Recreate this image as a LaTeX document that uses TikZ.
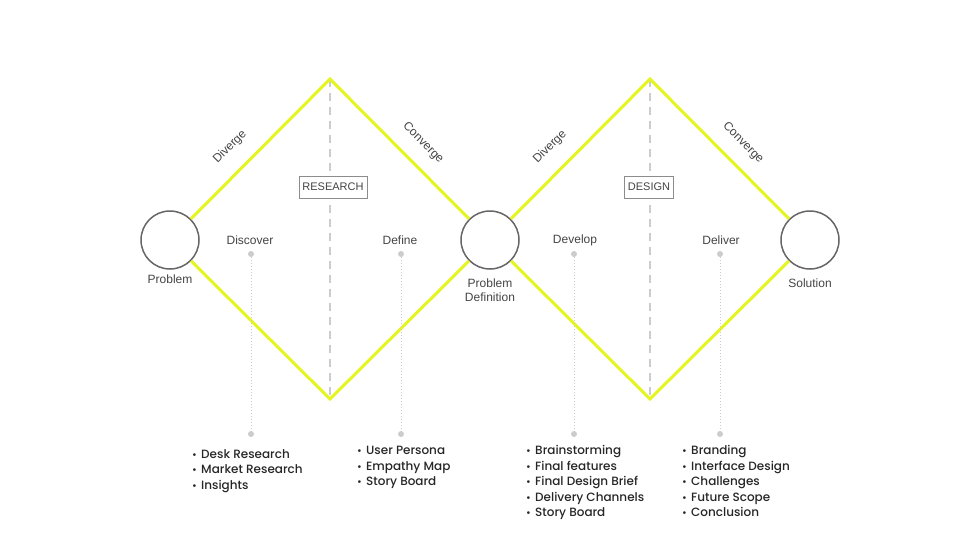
\documentclass[tikz,border=0pt]{standalone}
\usepackage{fontspec}
\setmainfont{Liberation Sans}
\newfontfamily\listfont{Poppins}[UprightFont=* Medium]
\usepackage{tikz}
\usetikzlibrary{positioning}
\usepackage{xcolor}
\definecolor{lime}{RGB}{228,245,33}
\definecolor{ringgray}{RGB}{102,102,102}
\definecolor{textgray}{RGB}{68,68,68}
\definecolor{dotgray}{RGB}{204,204,204}
\newcommand{\itm}{\makebox[9pt][l]{\scalebox{0.85}{•}}}

\tikzset{
  stage/.style={circle, draw=ringgray, line width=1.5pt, fill=white, minimum size=58pt, inner sep=0pt},
  diamondline/.style={draw=lime, line width=3pt, line join=miter},
  label/.style={text=textgray, font=\fontsize{12}{14}\selectfont, inner sep=0pt, align=center},
  phasebox/.style={draw=gray!90, text=textgray, font=\fontsize{11}{13}\selectfont, inner sep=3.5pt, minimum height=22pt},
  midline/.style={draw=dotgray, line width=1.5pt, dash pattern=on 8pt off 6pt},
  pin/.style={circle, fill=dotgray, minimum size=6pt, inner sep=0pt},
  pinline/.style={draw=dotgray, line width=1pt, dotted},
  itemlist/.style={anchor=north west, align=left, inner sep=0pt, text=black!85,
                   font={\listfont\fontsize{12}{15.5}\selectfont}}
}

\begin{document}
\begin{tikzpicture}[x=1pt,y=-1pt]
\useasboundingbox (0,0) rectangle (980,551);

% the three stages
\node[stage] (problem) at (170,240) {};
\node[stage] (definition) at (490,240) {};
\node[stage] (solution) at (810,240) {};
\node[label, below=5pt of problem] {Problem};
\node[label, below=9pt of definition] {Problem\\Definition};
\node[label, below=9pt of solution] {Solution};

% corners of the diamonds
\coordinate (top1) at (330,79);
\coordinate (bot1) at (330,399);
\coordinate (top2) at (650,79);
\coordinate (bot2) at (650,399);

% centre lines
\draw[midline] (top1)--(bot1);
\draw[midline] (top2)--(bot2);

% the double diamond
\draw[diamondline] (problem)--(top1)--(definition);
\draw[diamondline] (problem)--(bot1)--(definition);
\draw[diamondline] (definition)--(top2)--(solution);
\draw[diamondline] (definition)--(bot2)--(solution);

\node[phasebox, fill=white] (research) at (333,187) {RESEARCH};
\node[phasebox, fill=white] (design) at (649,187) {DESIGN};

\node[label, rotate=45] at (230,147) {Diverge};
\node[label, rotate=-45] at (423,143) {Converge};
\node[label, rotate=45] at (550,147) {Diverge};
\node[label, rotate=-45] at (743,143) {Converge};

% phases and their pins
\node[label] (discover) at (250,240) {Discover};
\node[label] (define) at (400,240) {Define};
\node[label] (develop) at (575,240) {Develop};
\node[label] (deliver) at (721,240) {Deliver};

\node[pin] (d1) at (251,254) {};
\node[pin] (e1) at (251,434) {};
\node[pin] (d2) at (401,254) {};
\node[pin] (e2) at (401,434) {};
\node[pin] (d3) at (574,254) {};
\node[pin] (e3) at (574,434) {};
\node[pin] (d4) at (720,254) {};
\node[pin] (e4) at (720,434) {};
\draw[pinline] (d1)--(e1);
\draw[pinline] (d2)--(e2);
\draw[pinline] (d3)--(e3);
\draw[pinline] (d4)--(e4);

% what each phase holds
\node[itemlist] (list1) at (192,449) {\itm Desk Research\\\itm Market Research\\\itm Insights};
\node[itemlist] (list2) at (357,446) {\itm User Persona\\\itm Empathy Map\\\itm Story Board};
\node[itemlist] (list3) at (526,445.5) {\itm Brainstorming\\\itm Final features\\\itm Final Design Brief\\\itm Delivery Channels\\\itm Story Board};
\node[itemlist] (list4) at (682,445.5) {\itm Branding\\\itm Interface Design\\\itm Challenges\\\itm Future Scope\\\itm Conclusion};
\end{tikzpicture}
\end{document}
